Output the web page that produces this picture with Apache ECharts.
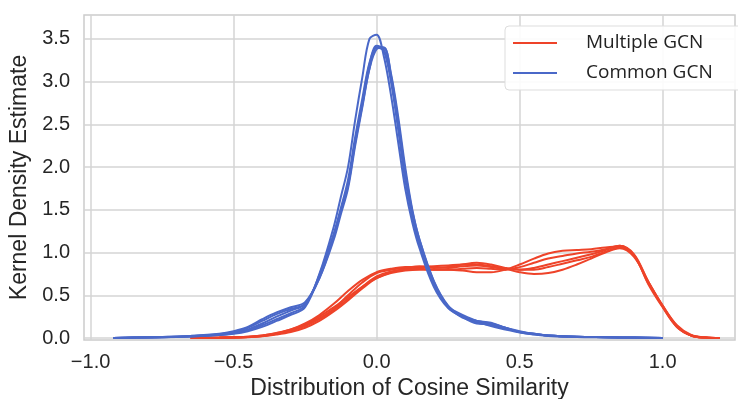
<!DOCTYPE html>
<html>
<head>
<meta charset="utf-8">
<script src="https://cdn.jsdelivr.net/npm/echarts@6/dist/echarts.min.js"></script>
<style>
  html, body { margin: 0; padding: 0; background: #fff; }
  #chart { width: 738px; height: 399px; }
</style>
</head>
<body>
<div id="chart"></div>
<script>
// tick positions
const xTicks = [-1.0, -0.5, 0.0, 0.5, 1.0]
const yTicks = [0.0, 0.5, 1.0, 1.5, 2.0, 2.5, 3.0, 3.5]

// Common GCN curves (blue), sampled on blueX
const blueX = [-0.92, -0.85, -0.75, -0.65, -0.55, -0.5, -0.45, -0.4, -0.35, -0.3,
  -0.25, -0.2, -0.15, -0.125, -0.1, -0.075, -0.05, -0.025, 0, 0.025,
  0.05, 0.075, 0.1, 0.125, 0.15, 0.2, 0.25, 0.3, 0.35, 0.4,
  0.45, 0.5, 0.55, 0.6, 0.7, 0.8, 0.9, 1.0]
const blue1 = [0, 0.005, 0.01, 0.02, 0.04, 0.06, 0.1, 0.17, 0.25, 0.32,
  0.4, 0.72, 1.2, 1.5, 1.8, 2.3, 2.75, 3.2, 3.42, 3.38,
  3.05, 2.5, 1.9, 1.45, 1.12, 0.65, 0.36, 0.26, 0.18, 0.15,
  0.11, 0.07, 0.05, 0.03, 0.015, 0.01, 0.005, 0]
const blue2 = [0, 0.005, 0.01, 0.02, 0.035, 0.05, 0.08, 0.13, 0.2, 0.27,
  0.36, 0.75, 1.3, 1.65, 2.0, 2.55, 3.05, 3.5, 3.55, 3.3,
  2.85, 2.3, 1.75, 1.35, 1.05, 0.6, 0.35, 0.25, 0.2, 0.17,
  0.12, 0.07, 0.05, 0.03, 0.015, 0.01, 0.005, 0]
const blue3 = [0, 0.005, 0.012, 0.025, 0.05, 0.08, 0.13, 0.22, 0.3, 0.36,
  0.42, 0.7, 1.15, 1.45, 1.75, 2.25, 2.7, 3.15, 3.4, 3.4,
  3.1, 2.6, 2.0, 1.5, 1.15, 0.66, 0.37, 0.24, 0.2, 0.18,
  0.12, 0.07, 0.04, 0.025, 0.012, 0.008, 0.004, 0]
const blue4 = [0, 0.004, 0.008, 0.018, 0.035, 0.055, 0.09, 0.15, 0.22, 0.29,
  0.38, 0.74, 1.22, 1.52, 1.85, 2.35, 2.8, 3.22, 3.4, 3.36,
  3.0, 2.45, 1.85, 1.42, 1.1, 0.63, 0.37, 0.27, 0.2, 0.14,
  0.1, 0.065, 0.045, 0.03, 0.015, 0.01, 0.005, 0]
const blue5 = [0, 0.006, 0.012, 0.022, 0.045, 0.07, 0.12, 0.2, 0.28, 0.34,
  0.4, 0.7, 1.18, 1.48, 1.78, 2.28, 2.72, 3.15, 3.38, 3.4,
  3.08, 2.55, 1.95, 1.48, 1.15, 0.67, 0.38, 0.25, 0.17, 0.16,
  0.12, 0.08, 0.05, 0.03, 0.015, 0.01, 0.005, 0]

// Multiple GCN curves (red), sampled on redX
const redX = [-0.65, -0.55, -0.45, -0.4, -0.35, -0.3, -0.25, -0.2, -0.15, -0.1,
  -0.05, 0, 0.05, 0.1, 0.15, 0.2, 0.25, 0.3, 0.35, 0.4,
  0.45, 0.5, 0.55, 0.6, 0.65, 0.7, 0.75, 0.8, 0.85, 0.9,
  0.95, 1.0, 1.05, 1.1, 1.15, 1.2]
const red1 = [0, 0.005, 0.015, 0.03, 0.06, 0.1, 0.16, 0.25, 0.36, 0.48,
  0.6, 0.7, 0.76, 0.79, 0.8, 0.8, 0.8, 0.79, 0.77, 0.77,
  0.8, 0.86, 0.93, 0.99, 1.02, 1.03, 1.04, 1.06, 1.07, 0.96,
  0.64, 0.37, 0.14, 0.03, 0.005, 0]
const red2 = [0, 0.003, 0.01, 0.02, 0.04, 0.07, 0.12, 0.2, 0.31, 0.44,
  0.58, 0.7, 0.77, 0.81, 0.83, 0.84, 0.85, 0.86, 0.86, 0.84,
  0.81, 0.77, 0.75, 0.76, 0.8, 0.86, 0.93, 1.0, 1.05, 0.95,
  0.66, 0.38, 0.15, 0.035, 0.006, 0]
const red3 = [0, 0.004, 0.012, 0.025, 0.05, 0.09, 0.15, 0.23, 0.34, 0.5,
  0.65, 0.76, 0.8, 0.82, 0.84, 0.83, 0.82, 0.84, 0.85, 0.83,
  0.81, 0.8, 0.82, 0.86, 0.9, 0.94, 0.98, 1.03, 1.08, 0.98,
  0.66, 0.37, 0.13, 0.03, 0.005, 0]
const red4 = [0, 0.005, 0.015, 0.03, 0.055, 0.1, 0.17, 0.27, 0.4, 0.55,
  0.68, 0.77, 0.81, 0.83, 0.83, 0.82, 0.83, 0.86, 0.88, 0.86,
  0.82, 0.8, 0.8, 0.83, 0.87, 0.91, 0.95, 1.01, 1.06, 0.97,
  0.63, 0.36, 0.13, 0.03, 0.005, 0]
const red5 = [0, 0.004, 0.012, 0.025, 0.05, 0.085, 0.14, 0.22, 0.33, 0.46,
  0.6, 0.72, 0.78, 0.8, 0.81, 0.8, 0.8, 0.81, 0.82, 0.81,
  0.8, 0.83, 0.88, 0.93, 0.96, 0.99, 1.01, 1.04, 1.08, 0.97,
  0.65, 0.38, 0.14, 0.03, 0.005, 0]

const RED = '#EE4329'
const BLUE = '#4A68C8'
const TEXT = '#262626'
const GRIDLINE = '#d4d4d4'

const minus = v => String(v.toFixed(1)).replace('-', '\u2212')

function curve(name, xs, ys, color) {
  return {
    name: name,
    type: 'line',
    data: xs.map((x, i) => [x, ys[i]]),
    showSymbol: false,
    smooth: 0.35,
    lineStyle: { color: color, width: 2 },
    itemStyle: { color: color },
  }
}

const chart = echarts.init(document.getElementById('chart'))
chart.setOption({
  animation: false,
  backgroundColor: '#fff',
  grid: {
    left: 84,
    right: 3,
    top: 15,
    bottom: 59,
    outerBoundsMode: 'none',
    show: true,
    borderColor: '#cccccc',
    borderWidth: 1.5,
  },
  legend: {
    orient: 'vertical',
    left: 505,
    top: 26,
    data: ['Multiple GCN', 'Common GCN'],
    icon: 'rect',
    itemWidth: 44,
    itemHeight: 2,
    itemGap: 8,
    padding: [6, 30, 6, 8],
    backgroundColor: 'rgba(255,255,255,0.9)',
    borderColor: '#dddddd',
    borderWidth: 1,
    borderRadius: 4,
    textStyle: {
      fontFamily: 'Open Sans',
      fontSize: 19,
      color: '#222',
      lineHeight: 22,
      padding: [0, 0, 0, 24],
    },
  },
  xAxis: {
    type: 'value',
    min: -1.023,
    max: 1.253,
    name: 'Distribution of Cosine Similarity',
    nameLocation: 'middle',
    nameGap: 34,
    nameTextStyle: { fontFamily: 'Liberation Sans', fontSize: 23, color: TEXT },
    axisLine: { show: false },
    axisTick: { show: false, customValues: xTicks },
    axisLabel: {
      customValues: xTicks,
      formatter: minus,
      fontFamily: 'Liberation Sans',
      fontSize: 20,
      color: TEXT,
      margin: 12,
    },
    splitLine: { show: true, lineStyle: { color: GRIDLINE, width: 1.5 } },
  },
  yAxis: {
    type: 'value',
    min: -0.023,
    max: 3.78,
    name: 'Kernel Density Estimate',
    nameLocation: 'middle',
    nameGap: 50,
    nameTextStyle: { fontFamily: 'Liberation Sans', fontSize: 23, color: TEXT },
    axisLine: { show: false },
    axisTick: { show: false, customValues: yTicks },
    axisLabel: {
      customValues: yTicks,
      formatter: minus,
      fontFamily: 'Liberation Sans',
      fontSize: 20,
      color: TEXT,
      margin: 14,
    },
    splitLine: { show: true, lineStyle: { color: GRIDLINE, width: 1.5 } },
  },
  series: [
    ...[red1, red2, red3, red4, red5].map(ys => curve('Multiple GCN', redX, ys, RED)),
    ...[blue1, blue2, blue3, blue4, blue5].map(ys => curve('Common GCN', blueX, ys, BLUE)),
  ],
})
</script>
</body>
</html>
